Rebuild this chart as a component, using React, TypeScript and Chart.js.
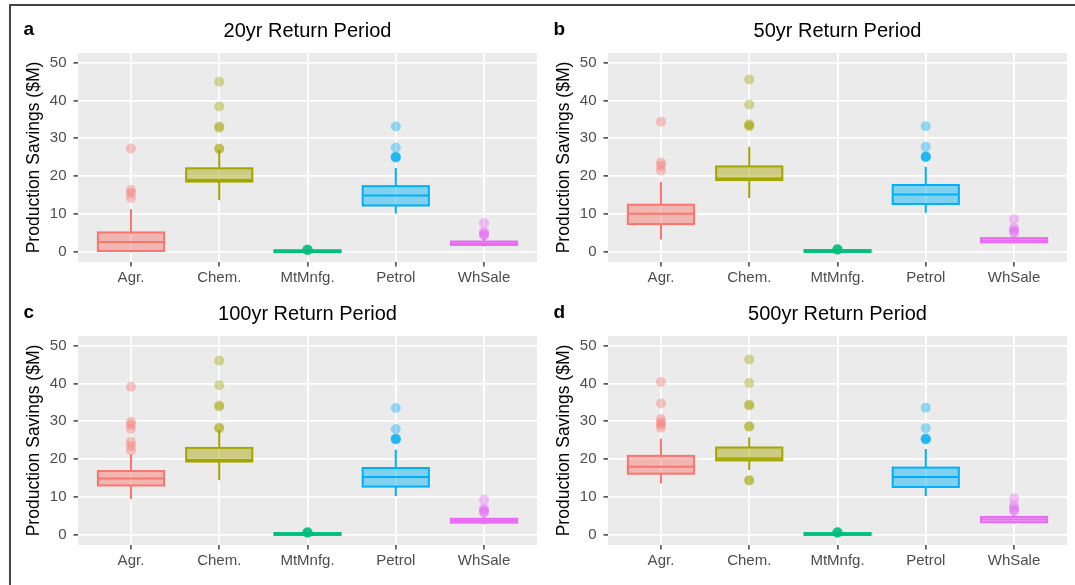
import React, { useEffect, useRef } from 'react';
import { Chart, registerables } from 'chart.js';

Chart.register(...registerables);
Chart.defaults.font.family = '"Liberation Sans", Arial, sans-serif';

const categories = ['Agr.', 'Chem.', 'MtMnfg.', 'Petrol', 'WhSale'];
const yMajorTicks = [0, 10, 20, 30, 40, 50];
const yMinorTicks = [5, 15, 25, 35, 45];
const sectorColors = ['#F8766D', '#A3A500', '#00BF7D', '#00B0F6', '#E76BF3'];
const yAxisTitle = 'Production Savings ($M)';

// 20yr return period: whisker ends, quartiles, medians, outliers per sector
const rp20Low = [0.0, 13.7, 0.0, 10.2, 1.5];
const rp20Q1 = [0.3, 18.6, 0.02, 12.3, 1.9];
const rp20Median = [2.7, 19.0, 0.25, 14.9, 2.3];
const rp20Q3 = [5.2, 22.1, 0.5, 17.4, 2.8];
const rp20High = [11.3, 26.9, 0.55, 22.2, 3.6];
const rp20Outliers = [
  [27.3, 16.4, 15.6, 14.3],
  [44.9, 38.4, 33.1, 32.8, 27.3, 27.2],
  [0.6, 0.62, 0.6, 0.64, 0.6],
  [33.1, 27.6, 25.2, 25.0, 25.1, 24.9],
  [7.7, 5.4, 5.0, 4.6, 4.4],
];

// 50yr return period
const rp50Low = [3.3, 14.3, 0.0, 10.4, 2.3];
const rp50Q1 = [7.4, 19.0, 0.05, 12.7, 2.6];
const rp50Median = [10.1, 19.4, 0.3, 15.2, 3.1];
const rp50Q3 = [12.5, 22.6, 0.55, 17.7, 3.7];
const rp50High = [18.5, 27.8, 0.6, 22.5, 4.1];
const rp50Outliers = [
  [34.4, 23.6, 22.8, 21.5],
  [45.5, 38.9, 33.7, 33.4, 33.2],
  [0.7, 0.72, 0.7, 0.68, 0.7],
  [33.2, 27.8, 25.3, 25.1, 25.2, 25.0],
  [8.7, 6.4, 5.9, 5.4, 5.1],
];

// 100yr return period
const rp100Low = [9.5, 14.5, 0.0, 10.3, 2.9];
const rp100Q1 = [13.1, 19.4, 0.05, 12.8, 3.3];
const rp100Median = [14.9, 19.8, 0.3, 15.3, 3.8];
const rp100Q3 = [16.9, 23.0, 0.55, 17.7, 4.3];
const rp100High = [21.3, 27.8, 0.6, 22.5, 4.9];
const rp100Outliers = [
  [39.1, 29.9, 29.1, 28.0, 24.6, 23.5, 22.3],
  [46.0, 39.5, 34.2, 33.9, 28.3, 28.2],
  [0.7, 0.72, 0.7, 0.68, 0.7],
  [33.5, 28.0, 25.5, 25.3, 25.4, 25.2],
  [9.3, 7.0, 6.6, 6.2, 5.9],
];

// 500yr return period
const rp500Low = [13.6, 17.2, 0.0, 10.3, 3.1];
const rp500Q1 = [16.2, 19.7, 0.05, 12.7, 3.4];
const rp500Median = [18.0, 20.2, 0.3, 15.3, 4.1];
const rp500Q3 = [20.9, 23.1, 0.55, 17.8, 4.8];
const rp500High = [25.5, 25.8, 0.6, 22.7, 5.3];
const rp500Outliers = [
  [40.4, 34.7, 30.6, 29.7, 29.2, 28.3],
  [46.3, 40.1, 34.4, 34.2, 28.7, 28.6, 14.5, 14.4],
  [0.7, 0.72, 0.7, 0.68, 0.7],
  [33.6, 28.2, 25.5, 25.3, 25.4, 25.2],
  [9.7, 7.9, 7.1, 6.6, 6.4],
];

type BoxStats = {
  low: number[];
  q1: number[];
  med: number[];
  q3: number[];
  high: number[];
  out: number[][];
};

const panels = [
  { letter: 'a', title: '20yr Return Period', left: 0, top: 0,
    stats: { low: rp20Low, q1: rp20Q1, med: rp20Median, q3: rp20Q3, high: rp20High, out: rp20Outliers } },
  { letter: 'b', title: '50yr Return Period', left: 530, top: 0,
    stats: { low: rp50Low, q1: rp50Q1, med: rp50Median, q3: rp50Q3, high: rp50High, out: rp50Outliers } },
  { letter: 'c', title: '100yr Return Period', left: 0, top: 283,
    stats: { low: rp100Low, q1: rp100Q1, med: rp100Median, q3: rp100Q3, high: rp100High, out: rp100Outliers } },
  { letter: 'd', title: '500yr Return Period', left: 530, top: 283,
    stats: { low: rp500Low, q1: rp500Q1, med: rp500Median, q3: rp500Q3, high: rp500High, out: rp500Outliers } },
];

const CANVAS_W = 545;
const CANVAS_H = 300;

function withAlpha(hex: string, a: number) {
  const n = parseInt(hex.slice(1), 16);
  return `rgba(${(n >> 16) & 255},${(n >> 8) & 255},${n & 255},${a})`;
}

function Panel({ letter, title, stats, left, top }: {
  letter: string; title: string; stats: BoxStats; left: number; top: number;
}) {
  const ref = useRef<HTMLCanvasElement>(null);

  useEffect(() => {
    const canvas = ref.current;
    if (!canvas) return;

    const boxData = categories.map((_, i) => ({ x: i + 1, y: [stats.q1[i], stats.q3[i]] }));
    const outlierSets = categories.map((_, i) => ({
      type: 'scatter' as const,
      data: stats.out[i].map((v) => ({ x: i + 1, y: v })),
      showLine: false,
      pointRadius: 5,
      pointHoverRadius: 5,
      pointBackgroundColor: withAlpha(sectorColors[i], 0.4),
      pointBorderWidth: 0,
      borderWidth: 0,
      order: 1,
    }));

    // panel background, box outlines / whiskers / medians, title and tag letter
    const decor = {
      id: 'panelDecor',
      beforeDraw(chart: any) {
        const { ctx, chartArea: a } = chart;
        ctx.save();
        ctx.fillStyle = '#EBEBEB';
        ctx.fillRect(a.left, a.top, a.right - a.left, a.bottom - a.top);
        ctx.restore();
      },
      afterDatasetDraw(chart: any, args: any) {
        if (args.meta.type !== 'bar') return;
        const { ctx } = chart;
        const ys = chart.scales.y;
        ctx.save();
        ctx.lineWidth = 2;
        args.meta.data.forEach((bar: any, i: number) => {
          const cx = bar.x;
          const half = bar.width / 2;
          const yLow = ys.getPixelForValue(stats.low[i]);
          const yQ1 = ys.getPixelForValue(stats.q1[i]);
          const yMed = ys.getPixelForValue(stats.med[i]);
          const yQ3 = ys.getPixelForValue(stats.q3[i]);
          const yHigh = ys.getPixelForValue(stats.high[i]);
          ctx.strokeStyle = sectorColors[i];
          ctx.beginPath();
          ctx.moveTo(cx, yQ3);
          ctx.lineTo(cx, yHigh);
          ctx.moveTo(cx, yQ1);
          ctx.lineTo(cx, yLow);
          ctx.stroke();
          ctx.strokeRect(cx - half, yQ3, half * 2, yQ1 - yQ3);
          ctx.beginPath();
          ctx.moveTo(cx - half, yMed);
          ctx.lineTo(cx + half, yMed);
          ctx.stroke();
        });
        ctx.restore();
      },
      afterDraw(chart: any) {
        const { ctx, chartArea: a } = chart;
        ctx.save();
        ctx.fillStyle = '#000000';
        ctx.textBaseline = 'middle';
        ctx.textAlign = 'center';
        ctx.font = '20px "Liberation Sans", Arial, sans-serif';
        ctx.fillText(title, (a.left + a.right) / 2, 31);
        ctx.textAlign = 'left';
        ctx.font = 'bold 19px "Liberation Sans", Arial, sans-serif';
        ctx.fillText(letter, 23.5, 30);
        ctx.restore();
      },
    };

    const isMajor = (v: number) => yMajorTicks.includes(v);

    const chart = new Chart(canvas, {
      type: 'bar',
      data: {
        datasets: [
          {
            type: 'bar',
            data: boxData as any,
            backgroundColor: sectorColors.map((c) => withAlpha(c, 0.45)),
            borderWidth: 0,
            barPercentage: 0.75,
            categoryPercentage: 1,
            grouped: false,
            order: 2,
          } as any,
          ...(outlierSets as any[]),
        ],
      },
      options: {
        animation: false,
        responsive: false,
        events: [],
        layout: { padding: { left: 0, top: 53, right: CANVAS_W - 537, bottom: 8 } },
        plugins: {
          legend: { display: false },
          title: { display: false },
          tooltip: { enabled: false },
        },
        scales: {
          x: {
            type: 'linear',
            min: 0.4,
            max: 5.6,
            offset: false,
            afterBuildTicks: (s: any) => {
              s.ticks = categories.map((_, i) => ({ value: i + 1 }));
            },
            afterFit: (s: any) => {
              s.height = 30;
            },
            grid: {
              offset: false,
              color: '#FFFFFF',
              lineWidth: 1.8,
              tickColor: '#333333',
              tickLength: 4.5,
              tickWidth: 1.4,
            },
            border: { display: false },
            ticks: {
              callback: (v: any) => categories[Math.round(v) - 1] ?? '',
              color: '#4D4D4D',
              font: { size: 15 },
              padding: 2.5,
              maxRotation: 0,
              autoSkip: false,
            },
          },
          y: {
            type: 'linear',
            min: -2.6,
            max: 52.5,
            afterBuildTicks: (s: any) => {
              s.ticks = [...yMajorTicks, ...yMinorTicks]
                .sort((p, q) => p - q)
                .map((value) => ({ value }));
            },
            afterFit: (s: any) => {
              s.width = 78;
            },
            grid: {
              color: '#FFFFFF',
              lineWidth: (c: any) => (isMajor(c.tick?.value) ? 1.8 : 0.9),
              tickColor: (c: any) => (isMajor(c.tick?.value) ? '#333333' : 'rgba(0,0,0,0)'),
              tickLength: 4.5,
              tickWidth: 1.4,
            },
            border: { display: false },
            ticks: {
              callback: (v: any) => (isMajor(v) ? String(v) : ''),
              color: '#4D4D4D',
              font: { size: 15 },
              padding: 7,
            },
            title: {
              display: true,
              text: yAxisTitle,
              color: '#000000',
              font: { size: 17.5 },
              padding: { top: 24, bottom: 0 },
            },
          },
        },
      } as any,
      plugins: [decor],
    });

    return () => chart.destroy();
  }, [letter, title, stats]);

  return (
    <canvas
      ref={ref}
      width={CANVAS_W}
      height={CANVAS_H}
      style={{ position: 'absolute', left, top, width: CANVAS_W, height: CANVAS_H }}
    />
  );
}

export default function App() {
  return (
    <div
      style={{
        position: 'fixed',
        left: 0,
        top: 0,
        width: 1075,
        height: 585,
        background: '#FFFFFF',
        overflow: 'hidden',
      }}
    >
      {panels.map((p) => (
        <Panel key={p.letter} {...p} />
      ))}
      <div
        style={{
          position: 'absolute',
          left: 9,
          top: 4,
          right: 0,
          bottom: 0,
          borderTop: '2px solid #444444',
          borderLeft: '2px solid #444444',
          pointerEvents: 'none',
        }}
      />
    </div>
  );
}
